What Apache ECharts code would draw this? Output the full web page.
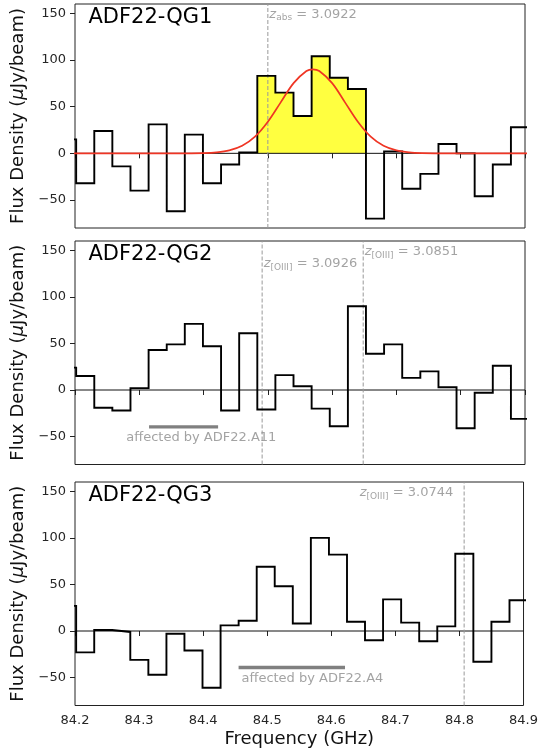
<!DOCTYPE html>
<html>
<head>
<meta charset="utf-8">
<script src="https://cdn.jsdelivr.net/npm/echarts@6/dist/echarts.min.js"></script>
<style>
html,body{margin:0;padding:0;background:#fff;}
#chart{width:541px;height:753px;}
</style>
</head>
<body>
<div id="chart"></div>
<script>
// ---------------- data ----------------
const freqEdges = [84.1736, 84.2018, 84.2300, 84.2581, 84.2863, 84.3145, 84.3427, 84.3708, 84.3990,
  84.4272, 84.4554, 84.4836, 84.5117, 84.5399, 84.5681, 84.5963, 84.6245, 84.6526, 84.6808,
  84.7090, 84.7372, 84.7654, 84.7935, 84.8217, 84.8499, 84.8781, 84.9063];
const qg1Flux = [15, -32, 24, -14, -40, 31, -62, 20, -32, -12, 1, 83, 65, 40, 104, 81, 69, -70, 2, -38, -22, 10, 0, -46, -12, 28];
const qg2Flux = [24, 15, -19, -22, 2, 43, 49, 71, 47, -22, 61, -21, 16, 4, -20, -39, 90, 39, 49, 13, 20, 3, -41, -3, 26, -31];
const qg3Flux = [27, -23, 1, -1, -31, -47, -3, -21, -61, 6, 11, 69, 48, 8, 100, 82, 10, -10, 34, 9, -11, 5, 83, -33, 10, 33];
const qg1LineBins = [11, 16];          // first / last channel index of the shaded line
const fitFreq = [84.10, 84.36, 84.40, 84.42, 84.44, 84.46, 84.48, 84.50, 84.52, 84.54, 84.56, 84.57,
  84.58, 84.60, 84.62, 84.64, 84.66, 84.68, 84.70, 84.72, 84.74, 84.78, 85.00];
const fitFlux = [0, 0, 0.3, 1.0, 3.1, 8.0, 17.8, 33.8, 54.6, 75.2, 88.2, 90,
  88.2, 75.2, 54.6, 33.8, 17.8, 8.0, 3.1, 1.0, 0.3, 0, 0];
const panelNames = ['ADF22-QG1', 'ADF22-QG2', 'ADF22-QG3'];
const zLineFreq = [[84.5000], [84.4911, 84.6483], [84.8073]];
const zLabelPos = [[[84.5000, 149]], [[84.4911, 135.3], [84.6483, 148.2]], [[84.7926, 148.3]]];
const zLabelSub = [['abs'], ['[OIII]', '[OIII]'], ['[OIII]']];
const zLabelVal = [['3.0922'], ['3.0926', '3.0851'], ['3.0744']];
const zLabelSide = [['right'], ['right', 'right'], ['left']];
const affectedBar = [null, [84.3152, 84.4226, -39.6], [84.4553, 84.6214, -39.2]];
const affectedText = [null, [84.2789, -50.8, 'affected by ADF22.A11'], [84.4590, -50.7, 'affected by ADF22.A4']];
const xTicks = [84.2, 84.3, 84.4, 84.5, 84.6, 84.7, 84.8, 84.9];
const yTicks = [-50, 0, 50, 100, 150];
const fluxSets = [qg1Flux, qg2Flux, qg3Flux];

// ---------------- layout/style ----------------
const FONT = 'DejaVu Sans';
const GRAY = '#8c8c8c';
const tops = [4, 241, 482];
const heights = [224, 223.5, 223.5];
const gridLeft = 75, gridRight = 16;

function stepData(vals) {
  const d = [];
  for (let i = 0; i < vals.length; i++) d.push([freqEdges[i], vals[i]]);
  d.push([freqEdges[vals.length], vals[vals.length - 1]]);
  return d;
}

const grids = [], xAxes = [], yAxes = [], series = [], graphics = [];
for (let p = 0; p < 3; p++) {
  grids.push({left: gridLeft, right: gridRight, top: tops[p], height: heights[p],
    show: true, borderColor: '#222', borderWidth: 1, backgroundColor: 'transparent'});
  xAxes.push({
    gridIndex: p, type: 'value', min: 84.2, max: 84.9, interval: 0.1,
    axisLine: {show: false},
    splitLine: {show: false},
    axisTick: {show: true, length: 5, customValues: xTicks, lineStyle: {color: '#222', width: 1}},
    axisLabel: {show: p === 2, customValues: xTicks, margin: 9, fontSize: 13, fontFamily: FONT, color: '#262626',
      formatter: v => v.toFixed(1)},
    name: p === 2 ? 'Frequency (GHz)' : '',
    nameLocation: 'middle', nameGap: 25,
    nameTextStyle: {fontSize: 18, fontFamily: FONT, color: '#111'}
  });
  yAxes.push({
    gridIndex: p, type: 'value', min: -80, max: 160,
    axisLine: {show: false},
    splitLine: {show: false},
    axisTick: {show: true, length: 5, customValues: yTicks, lineStyle: {color: '#222', width: 1}},
    axisLabel: {customValues: yTicks, margin: 9, fontSize: 13, fontFamily: FONT, color: '#262626',
      formatter: v => String(v).replace('-', '\u2212')},
    name: 'Flux Density ({m|\u03bc}Jy/beam)',
    nameLocation: 'middle', nameGap: 46,
    nameTextStyle: {fontSize: 18, fontFamily: FONT, color: '#111',
      rich: {m: {fontSize: 18, fontFamily: FONT, fontStyle: 'italic', color: '#111'}}}
  });

  const common = {xAxisIndex: p, yAxisIndex: p, showSymbol: false, silent: true, animation: false};

  if (p === 0) {
    const a = qg1LineBins[0], b = qg1LineBins[1];
    const fill = [];
    for (let i = a; i <= b; i++) fill.push([freqEdges[i], qg1Flux[i]]);
    fill.push([freqEdges[b + 1], qg1Flux[b]]);
    series.push(Object.assign({type: 'line', step: 'end', data: fill, z: 1,
      lineStyle: {width: 0, opacity: 0}, areaStyle: {color: '#ffff40', opacity: 1, origin: 0}}, common));
  }
  // zero line
  series.push(Object.assign({type: 'line', data: [[84.2, 0], [84.9, 0]], z: 2,
    lineStyle: {color: '#111', width: 1}}, common));
  // dashed redshift lines
  zLineFreq[p].forEach(f => {
    series.push(Object.assign({type: 'line', data: [[f, -80], [f, 160]], z: 2,
      lineStyle: {color: '#999', width: 1, type: [4, 2]}}, common));
  });
  // affected bars
  if (affectedBar[p]) {
    const ab = affectedBar[p];
    series.push(Object.assign({type: 'line', data: [[ab[0], ab[2]], [ab[1], ab[2]]], z: 2,
      lineStyle: {color: '#808080', width: 3.3, cap: 'butt'}}, common));
    const at = affectedText[p];
    series.push({type: 'scatter', xAxisIndex: p, yAxisIndex: p, silent: true, animation: false, z: 5,
      symbolSize: 1, itemStyle: {color: 'rgba(0,0,0,0)'},
      data: [[at[0], at[1]]],
      label: {show: true, position: 'right', distance: 0, formatter: at[2],
        fontSize: 13, fontFamily: FONT, color: GRAY}});
  }
  // step spectrum
  series.push(Object.assign({type: 'line', step: 'end', data: stepData(fluxSets[p]), z: 3,
    lineStyle: {color: '#000', width: 1.9, join: 'miter'}}, common));
  // gaussian fit
  if (p === 0) {
    series.push(Object.assign({type: 'line', smooth: 0.35, data: fitFreq.map((f, i) => [f, fitFlux[i]]), z: 4,
      lineStyle: {color: '#ef3524', width: 1.7}}, common));
  }
  // redshift labels
  zLabelPos[p].forEach((pos, k) => {
    series.push({type: 'scatter', xAxisIndex: p, yAxisIndex: p, silent: true, animation: false, z: 5,
      symbolSize: 1, itemStyle: {color: 'rgba(0,0,0,0)'},
      data: [pos],
      label: {show: true, position: zLabelSide[p][k], distance: 1,
        formatter: '{z|z}{s|' + zLabelSub[p][k] + '}{t| = ' + zLabelVal[p][k] + '}',
        rich: {
          z: {fontFamily: FONT, fontStyle: 'italic', fontSize: 13, color: GRAY, lineHeight: 16},
          s: {fontFamily: FONT, fontSize: 9, color: GRAY, lineHeight: 11, verticalAlign: 'bottom'},
          t: {fontFamily: FONT, fontSize: 13, color: GRAY, lineHeight: 16}
        }}});
  });
  graphics.push({type: 'text', x: 88.5, y: tops[p] + 13.5, silent: true,
    style: {text: panelNames[p], font: '21px "DejaVu Sans"', fill: '#000', verticalAlign: 'middle', align: 'left'}});
}

const chart = echarts.init(document.getElementById('chart'), null, {renderer: 'canvas'});
chart.setOption({
  animation: false,
  backgroundColor: '#fff',
  grid: grids, xAxis: xAxes, yAxis: yAxes, series: series, graphic: graphics
});
</script>
</body>
</html>
